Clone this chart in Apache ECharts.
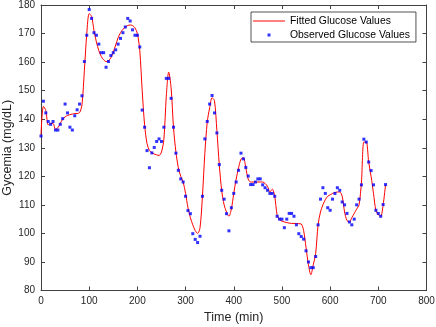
<!DOCTYPE html>
<html>
<head>
<meta charset="utf-8">
<script src="https://cdn.jsdelivr.net/npm/echarts@6/dist/echarts.min.js"></script>
<style>
html,body{margin:0;padding:0;background:#fff;}
#chart{width:436px;height:327px;}
</style>
</head>
<body>
<div id="chart"></div>
<script>
// Time grid (min), 5-minute sampling
const timeStart = 0;
const timeStep = 5;
// Observed glucose values (mg/dL)
const observed = [
134.1,146.3,142.2,139.2,138.2,139.2,136.2,136.2,138.2,140.2,
145.3,142.2,137.2,136.2,141.2,143.3,145.3,148.2,160.2,169.4,
178.4,175.3,170.3,169.4,166.3,163.3,163.3,158.2,160.2,162.3,
163.3,164.3,166.3,168.3,170.3,172.3,175.3,174.4,171.3,169.4,
169.4,165.3,143.2,137.2,129.0,123.0,128.2,130.1,132.2,133.1,
132.2,137.2,154.3,154.3,147.3,137.2,128.1,122.1,119.1,118.0,
113.0,108.0,106.9,99.9,97.9,96.8,99.0,113.0,133.1,139.2,
145.3,148.3,142.2,135.2,124.1,115.1,112.0,106.9,100.9,109.0,
114.0,118.0,122.1,128.1,126.1,123.1,120.1,117.1,117.1,118.0,
119.1,119.1,117.0,116.0,115.1,114.0,114.0,113.0,106.0,105.0,
105.0,102.0,105.0,107.0,107.0,106.0,103.0,99.9,98.9,98.0,
93.9,90.0,88.0,88.0,91.9,103.0,112.0,116.0,114.0,109.0,
108.1,112.0,114.0,116.0,115.1,111.0,110.0,107.0,104.0,103.0,
105.0,110.0,112.0,117.0,133.0,132.0,125.0,122.0,117.0,108.1,
107.0,106.0,110.1,117.1
];
// Fitted glucose values (mg/dL), same time grid
const fitted = [
134.5,144.5,143.0,138.0,138.5,138.5,136.5,137.0,138.5,140.0,
140.8,141.3,141.6,141.8,142.0,142.0,142.3,145.0,157.0,170.0,
177.0,176.0,171.0,167.0,164.0,162.0,160.8,160.2,160.5,161.5,
163.5,166.0,168.5,170.3,171.5,172.3,172.8,173.0,172.8,172.0,
170.0,164.0,150.0,138.0,131.5,129.0,128.3,127.8,127.5,127.3,
128.5,133.0,148.0,156.5,151.0,137.0,128.5,123.0,120.0,118.0,
114.0,109.0,105.5,103.0,101.0,100.0,102.0,113.0,128.0,139.0,
144.0,147.5,146.5,136.0,124.0,115.0,110.0,107.5,106.0,108.5,
114.0,119.0,123.0,126.0,126.5,123.0,119.0,118.0,118.0,118.0,
118.0,118.0,118.0,117.5,116.5,114.5,115.5,113.0,106.5,104.8,
104.3,104.0,103.8,103.6,103.5,103.5,103.5,103.4,103.3,101.0,
95.0,89.0,85.5,89.0,93.0,103.0,107.5,110.0,111.8,113.0,
113.5,114.0,114.3,114.5,114.5,113.0,107.5,104.5,104.0,105.5,
107.0,108.5,110.0,118.0,132.0,132.0,125.0,120.0,114.0,108.0,
106.5,106.0,110.0,117.0
];
const seriesNames = ['Fitted Glucose Values', 'Observed Glucose Values'];
const xTicks = {min: 0, max: 800, interval: 100};
const yTicks = {min: 80, max: 180, interval: 10};
const xLabel = 'Time (min)';
const yLabel = 'Gycemia (mg/dL)';

const times = observed.map((_, i) => timeStart + i * timeStep);
const obsData = times.map((t, i) => [t, observed[i]]);
const fitData = times.map((t, i) => [t, fitted[i]]);

const font = '"Liberation Sans", Arial, Helvetica, sans-serif';
const axisColor = '#404040';
const baseAxis = {
  axisLine: {show: true, onZero: false, lineStyle: {color: axisColor, width: 1}},
  axisTick: {show: true, inside: true, length: 4, lineStyle: {color: axisColor, width: 1}},
  splitLine: {show: false},
};

const chart = echarts.init(document.getElementById('chart'), null, {renderer: 'canvas'});
chart.setOption({
  animation: false,
  backgroundColor: '#fff',
  textStyle: {fontFamily: font},
  grid: {left: 41, right: 9.5, top: 5, bottom: 36.5, containLabel: false, outerBoundsMode: 'none'},
  legend: {
    orient: 'vertical',
    left: 251, top: 12,
    data: [
      {name: seriesNames[0], icon: 'path://M0,0h32v1h-32z'},
      {name: seriesNames[1], icon: 'path://M0,0h1v1h-1z'}
    ],
    itemWidth: 32, itemHeight: 3, itemGap: 2,
    padding: [3, 6, 1, 2],
    borderColor: '#262626', borderWidth: 0.8,
    backgroundColor: '#fff',
    textStyle: {fontFamily: font, fontSize: 10.4, lineHeight: 12, color: '#000'}
  },
  xAxis: [
    Object.assign({}, baseAxis, {
      type: 'value', position: 'bottom',
      min: xTicks.min, max: xTicks.max, interval: xTicks.interval,
      name: xLabel, nameLocation: 'middle', nameGap: 21,
      nameTextStyle: {fontFamily: font, fontSize: 12.5, color: '#262626'},
      axisLabel: {margin: 6, fontFamily: font, fontSize: 10, color: '#262626'}
    }),
    Object.assign({}, baseAxis, {
      type: 'value', position: 'top',
      min: xTicks.min, max: xTicks.max, interval: xTicks.interval,
      axisLabel: {show: false}
    })
  ],
  yAxis: [
    Object.assign({}, baseAxis, {
      type: 'value', position: 'left',
      min: yTicks.min, max: yTicks.max, interval: yTicks.interval,
      name: yLabel, nameLocation: 'middle', nameGap: 27, nameMoveOverlap: false,
      nameTextStyle: {fontFamily: font, fontSize: 12.5, color: '#262626'},
      axisLabel: {margin: 6, fontFamily: font, fontSize: 10, color: '#262626'}
    }),
    Object.assign({}, baseAxis, {
      type: 'value', position: 'right',
      min: yTicks.min, max: yTicks.max, interval: yTicks.interval,
      axisLabel: {show: false}
    })
  ],
  series: [
    {
      name: seriesNames[0], type: 'line', data: fitData,
      xAxisIndex: 0, yAxisIndex: 0,
      symbol: 'none', smooth: 0.3,
      lineStyle: {color: '#ff0000', width: 1},
      itemStyle: {color: '#ff0000'},
      z: 2
    },
    {
      name: seriesNames[1], type: 'scatter', data: obsData,
      xAxisIndex: 0, yAxisIndex: 0,
      symbol: 'rect', symbolSize: 3,
      itemStyle: {color: '#0000ff'},
      z: 3
    }
  ]
});
</script>
</body>
</html>
